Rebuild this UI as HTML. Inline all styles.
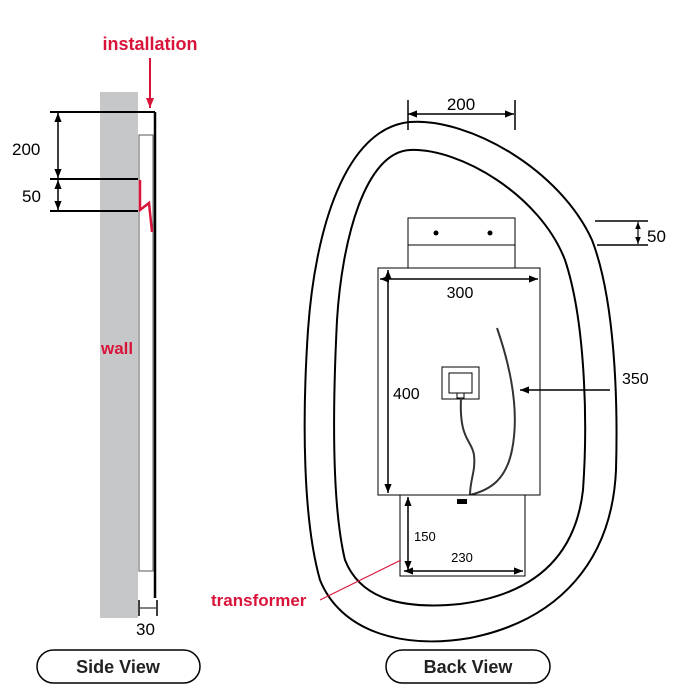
<!DOCTYPE html>
<html><head><meta charset="utf-8"><style>
html,body{margin:0;padding:0;background:#fff;}
svg{display:block;font-family:"Liberation Sans",sans-serif;}
</style></head><body>
<svg width="700" height="700" viewBox="0 0 700 700">
<defs>
<marker id="a" viewBox="0 0 10 10" refX="10" refY="5" markerWidth="6" markerHeight="6" orient="auto-start-reverse"><path d="M0,1 L10,5 L0,9z" fill="#000"/></marker>
<marker id="r" viewBox="0 0 10 10" refX="10" refY="5" markerWidth="5" markerHeight="6" orient="auto"><path d="M0,1 L10,5 L0,9z" fill="#d9143a"/></marker>
</defs>
<!-- Side view -->
<text x="150" y="50" fill="#d9143a" font-size="18" font-weight="bold" text-anchor="middle">installation</text>
<line x1="150" y1="58" x2="150" y2="108" stroke="#d9143a" stroke-width="2" marker-end="url(#r)"/>
<rect x="100" y="92" width="38" height="526" fill="#c6c7c9"/>
<rect x="139" y="135" width="14" height="436" fill="#fff" stroke="#555" stroke-width="1"/>
<line x1="155" y1="112" x2="155" y2="598" stroke="#000" stroke-width="2.5"/>
<line x1="50" y1="112" x2="155" y2="112" stroke="#000" stroke-width="2"/>
<line x1="50" y1="179" x2="138" y2="179" stroke="#000" stroke-width="2"/>
<line x1="50" y1="211" x2="138" y2="211" stroke="#000" stroke-width="2"/>
<line x1="58" y1="113" x2="58" y2="178" stroke="#000" stroke-width="1.5" marker-start="url(#a)" marker-end="url(#a)"/>
<line x1="58" y1="180" x2="58" y2="210" stroke="#000" stroke-width="1.5" marker-start="url(#a)" marker-end="url(#a)"/>
<text x="12" y="155" font-size="17">200</text>
<text x="22" y="202" font-size="17">50</text>
<path d="M140,180 L140,210 L149,203 L152,232" fill="none" stroke="#d9143a" stroke-width="2.5"/>
<text x="101" y="354" fill="#d9143a" font-size="17" font-weight="bold">wall</text>
<line x1="139" y1="600" x2="139" y2="616" stroke="#000" stroke-width="1.5"/>
<line x1="157" y1="600" x2="157" y2="616" stroke="#000" stroke-width="1.5"/>
<line x1="140" y1="608" x2="156" y2="608" stroke="#000" stroke-width="1"/>
<text x="136" y="635" font-size="17">30</text>
<!-- Back view blobs -->
<path d="M410,122 C470,118 560,170 592,240 C615,300 618,400 616,470 C612,560 560,620 470,638 C400,650 340,630 320,580 C303,520 302,420 308,330 C315,230 345,128 410,122Z" fill="none" stroke="#000" stroke-width="2"/>
<path d="M410,150 C460,148 540,195 565,260 C585,320 588,420 583,490 C575,560 530,595 460,604 C400,610 360,598 345,560 C333,510 332,420 337,320 C342,240 365,152 410,150Z" fill="none" stroke="#000" stroke-width="2"/>
<!-- 200 dim -->
<line x1="408" y1="100" x2="408" y2="130" stroke="#000" stroke-width="1.5"/>
<line x1="515" y1="100" x2="515" y2="130" stroke="#000" stroke-width="1.5"/>
<line x1="408" y1="114" x2="514" y2="114" stroke="#000" stroke-width="1.5" marker-start="url(#a)" marker-end="url(#a)"/>
<text x="461" y="110" font-size="17" text-anchor="middle">200</text>
<!-- bracket -->
<rect x="408" y="218" width="107" height="50" fill="#fff" stroke="#000" stroke-width="1"/>
<line x1="408" y1="245" x2="515" y2="245" stroke="#000" stroke-width="1"/>
<circle cx="436" cy="233" r="2.5"/><circle cx="490" cy="233" r="2.5"/>
<!-- 50 -->
<line x1="595" y1="221" x2="648" y2="221" stroke="#000" stroke-width="1.5"/>
<line x1="597" y1="245" x2="648" y2="245" stroke="#000" stroke-width="1.5"/>
<line x1="638" y1="222" x2="638" y2="244" stroke="#000" stroke-width="1.2" marker-start="url(#a)" marker-end="url(#a)"/>
<text x="647" y="242" font-size="17">50</text>
<!-- mirror panel -->
<rect x="378" y="268" width="162" height="227" fill="#fff" stroke="#000" stroke-width="1"/>
<line x1="380" y1="279" x2="538" y2="279" stroke="#000" stroke-width="1.5" marker-start="url(#a)" marker-end="url(#a)"/>
<text x="460" y="298" font-size="16" text-anchor="middle">300</text>
<line x1="388" y1="270" x2="388" y2="493" stroke="#000" stroke-width="1.5" marker-start="url(#a)" marker-end="url(#a)"/>
<text x="393" y="399" font-size="16">400</text>
<rect x="442" y="367" width="37" height="32" fill="none" stroke="#000" stroke-width="1"/>
<rect x="449" y="373" width="23" height="20" fill="none" stroke="#000" stroke-width="1"/>
<rect x="457" y="393" width="7" height="5" fill="#fff" stroke="#000" stroke-width="1"/>
<path d="M461,398 C459,440 472,440 474,455 C476,470 470,480 470,495" fill="none" stroke="#333" stroke-width="2"/>
<path d="M497,328 C515,380 518,420 512,450 C506,480 490,490 470,495" fill="none" stroke="#333" stroke-width="2"/>
<line x1="610" y1="390" x2="520" y2="390" stroke="#000" stroke-width="1.5" marker-end="url(#a)"/>
<text x="622" y="384" font-size="16">350</text>
<!-- transformer -->
<rect x="400" y="495" width="125" height="81" fill="#fff" stroke="#000" stroke-width="1"/>
<rect x="457" y="499" width="10" height="5" fill="#000"/>
<line x1="408" y1="497" x2="408" y2="570" stroke="#000" stroke-width="1.5" marker-start="url(#a)" marker-end="url(#a)"/>
<text x="414" y="541" font-size="13">150</text>
<line x1="404" y1="571" x2="523" y2="571" stroke="#000" stroke-width="1.5" marker-start="url(#a)" marker-end="url(#a)"/>
<text x="462" y="562" font-size="13" text-anchor="middle">230</text>
<text x="211" y="606" fill="#d9143a" font-size="17" font-weight="bold">transformer</text>
<line x1="320" y1="600" x2="401" y2="560" stroke="#d9143a" stroke-width="1.2"/>
<!-- labels -->
<rect x="37" y="650" width="163" height="33" rx="16.5" fill="#fff" stroke="#000" stroke-width="1.5"/>
<text x="118" y="673" font-size="18" text-anchor="middle" font-weight="bold" fill="#222">Side View</text>
<rect x="386" y="650" width="164" height="33" rx="16.5" fill="#fff" stroke="#000" stroke-width="1.5"/>
<text x="468" y="673" font-size="18" text-anchor="middle" font-weight="bold" fill="#222">Back View</text>
</svg>
</body></html>
